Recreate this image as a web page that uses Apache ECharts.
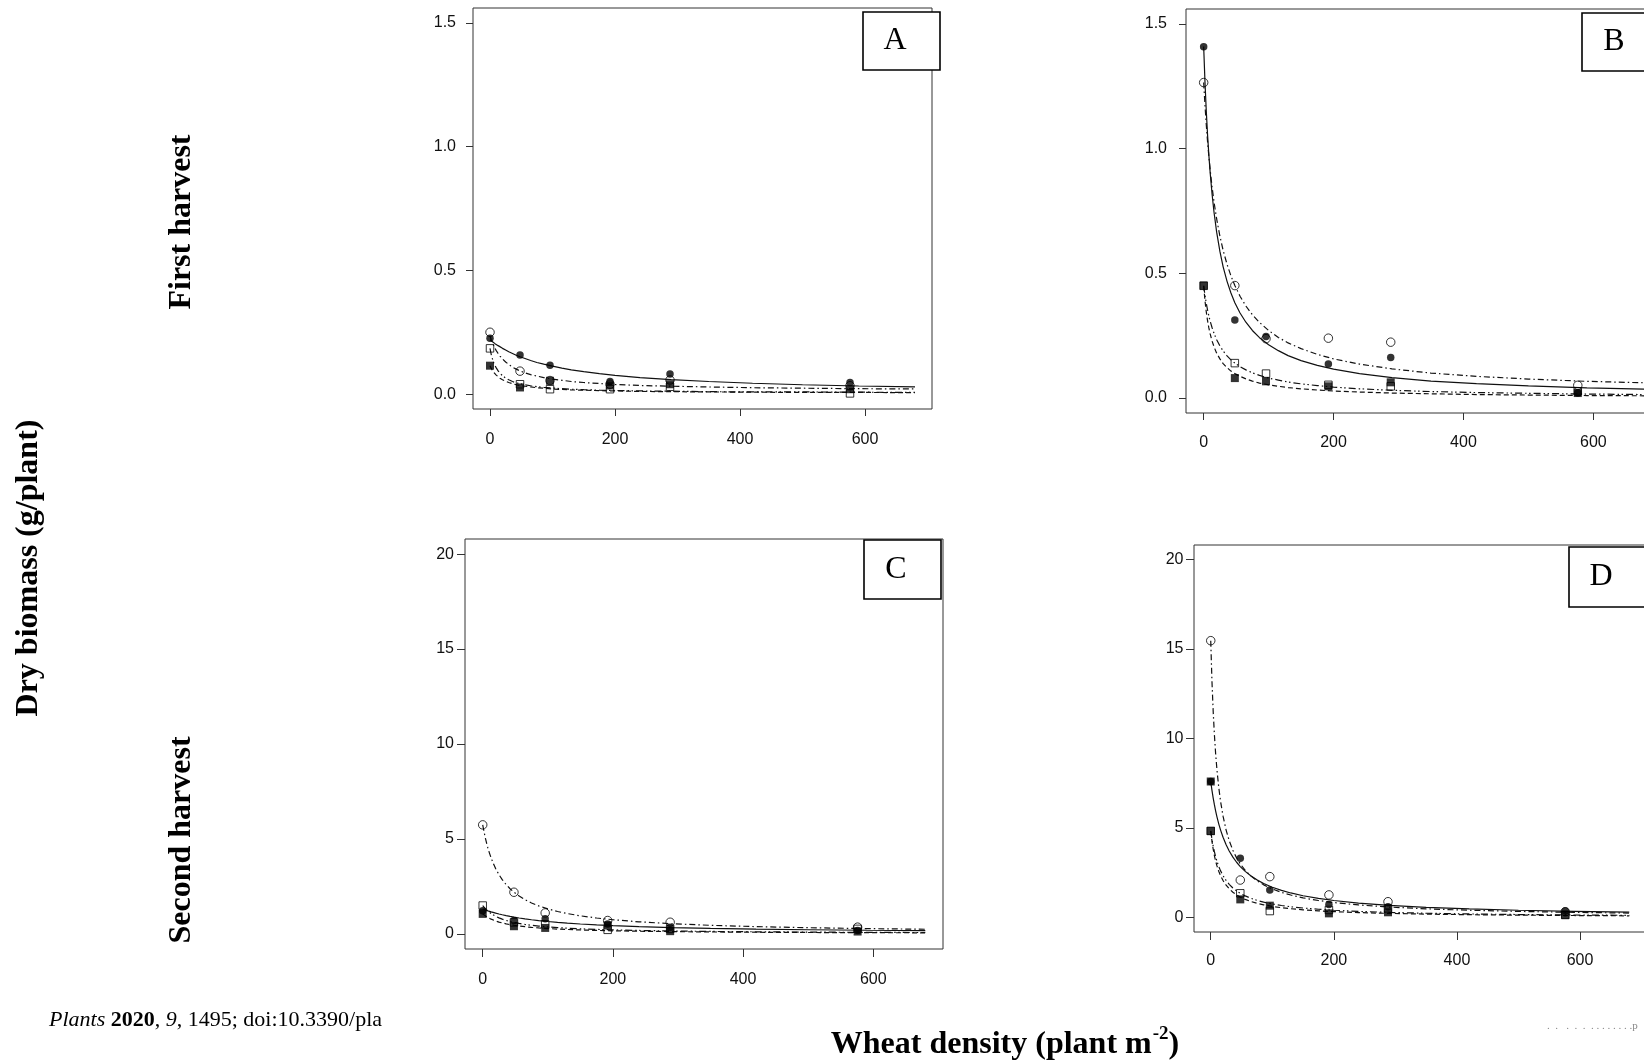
<!DOCTYPE html>
<html>
<head>
<meta charset="utf-8">
<title>Dry biomass vs wheat density</title>
<script src="https://cdn.jsdelivr.net/npm/echarts@6/dist/echarts.min.js"></script>
<style>
  html, body { margin: 0; padding: 0; background: #fff; }
  #chart { width: 1644px; height: 1061px; }
</style>
</head>
<body>
<div id="chart"></div>
<script>
// wheat densities (plant m-2) where the weed was sampled
const densities = [0, 48, 96, 192, 288, 576];
const curveX = [0, 2, 4, 6, 8, 10, 13, 16, 20, 25, 30, 36, 42, 48, 56, 65, 75, 86, 100, 115, 130, 150, 175, 200, 240, 290, 350, 420, 500, 590, 680];

const xTicks = [0, 200, 400, 600];
const yTicksFirst = [0, 0.5, 1, 1.5];
const yTicksSecond = [0, 5, 10, 15, 20];

// A - first harvest
const aFilledCircle = [0.226, 0.158, 0.117, 0.051, 0.081, 0.047];
const aOpenCircle = [0.25, 0.093, 0.055, 0.04, 0.057, 0.034];
const aOpenSquare = [0.185, 0.04, 0.02, 0.02, 0.03, 0.003];
const aFilledSquare = [0.115, 0.027, 0.054, 0.035, 0.04, 0.02];
const aFitSolid = [0.22, 0.216, 0.212, 0.208, 0.204, 0.201, 0.196, 0.191, 0.185, 0.178, 0.171, 0.164, 0.157, 0.151, 0.144, 0.136, 0.128, 0.121, 0.113, 0.105, 0.098, 0.091, 0.083, 0.076, 0.067, 0.059, 0.051, 0.044, 0.038, 0.033, 0.029];
const aFitDotDash = [0.235, 0.22, 0.207, 0.196, 0.185, 0.176, 0.164, 0.154, 0.142, 0.13, 0.12, 0.109, 0.101, 0.094, 0.086, 0.079, 0.073, 0.067, 0.061, 0.056, 0.051, 0.047, 0.043, 0.039, 0.035, 0.032, 0.029, 0.026, 0.024, 0.022, 0.021];
const aFitTwoDash = [0.185, 0.16, 0.142, 0.127, 0.115, 0.106, 0.094, 0.084, 0.075, 0.065, 0.058, 0.051, 0.046, 0.042, 0.038, 0.034, 0.03, 0.027, 0.025, 0.022, 0.02, 0.018, 0.016, 0.015, 0.013, 0.012, 0.01, 0.009, 0.009, 0.008, 0.007];
const aFitDashed = [0.115, 0.104, 0.096, 0.088, 0.082, 0.077, 0.07, 0.064, 0.058, 0.052, 0.047, 0.042, 0.038, 0.035, 0.032, 0.029, 0.026, 0.024, 0.021, 0.019, 0.017, 0.016, 0.014, 0.013, 0.011, 0.01, 0.009, 0.008, 0.007, 0.007, 0.006];

// B - first harvest
const bFilledCircle = [1.409, 0.313, 0.247, 0.136, 0.163, 0.02];
const bOpenCircle = [1.265, 0.451, 0.238, 0.24, 0.224, 0.051];
const bOpenSquare = [0.45, 0.14, 0.098, 0.053, 0.047, 0.027];
const bFilledSquare = [0.451, 0.08, 0.067, 0.047, 0.063, 0.02];
const bFitSolid = [1.41, 1.268, 1.152, 1.055, 0.974, 0.904, 0.816, 0.744, 0.665, 0.588, 0.526, 0.468, 0.421, 0.382, 0.341, 0.304, 0.271, 0.242, 0.214, 0.19, 0.17, 0.15, 0.131, 0.116, 0.098, 0.082, 0.068, 0.058, 0.049, 0.041, 0.036];
const bFitDotDash = [1.265, 1.175, 1.097, 1.028, 0.968, 0.915, 0.845, 0.785, 0.718, 0.649, 0.592, 0.536, 0.49, 0.451, 0.408, 0.369, 0.334, 0.303, 0.271, 0.243, 0.221, 0.198, 0.175, 0.157, 0.136, 0.117, 0.1, 0.087, 0.076, 0.067, 0.061];
const bFitTwoDash = [0.45, 0.412, 0.38, 0.353, 0.329, 0.308, 0.282, 0.259, 0.234, 0.209, 0.189, 0.169, 0.153, 0.14, 0.126, 0.113, 0.101, 0.091, 0.08, 0.072, 0.064, 0.057, 0.05, 0.044, 0.037, 0.031, 0.026, 0.022, 0.019, 0.016, 0.014];
const bFitDashed = [0.45, 0.391, 0.346, 0.31, 0.281, 0.257, 0.228, 0.205, 0.18, 0.157, 0.138, 0.122, 0.108, 0.098, 0.087, 0.077, 0.068, 0.06, 0.053, 0.047, 0.042, 0.037, 0.032, 0.028, 0.024, 0.02, 0.017, 0.014, 0.012, 0.01, 0.009];

// C - second harvest
const cFilledCircle = [1.22, 0.7, 0.79, 0.52, 0.35, 0.17];
const cOpenCircle = [5.74, 2.19, 1.1, 0.7, 0.61, 0.35];
const cOpenSquare = [1.49, 0.6, 0.5, 0.21, 0.26, 0.26];
const cFilledSquare = [1.05, 0.4, 0.31, 0.44, 0.14, 0.12];
const cFitSolid = [1.31, 1.284, 1.259, 1.234, 1.211, 1.189, 1.157, 1.126, 1.088, 1.044, 1.003, 0.958, 0.917, 0.879, 0.834, 0.788, 0.742, 0.698, 0.649, 0.603, 0.563, 0.518, 0.47, 0.431, 0.38, 0.331, 0.287, 0.248, 0.215, 0.187, 0.165];
const cFitDotDash = [5.74, 5.378, 5.058, 4.775, 4.521, 4.293, 3.991, 3.729, 3.429, 3.115, 2.854, 2.594, 2.376, 2.193, 1.988, 1.799, 1.627, 1.473, 1.313, 1.177, 1.067, 0.948, 0.832, 0.742, 0.632, 0.533, 0.448, 0.379, 0.322, 0.275, 0.24];
const cFitTwoDash = [1.49, 1.403, 1.326, 1.257, 1.195, 1.138, 1.063, 0.997, 0.921, 0.841, 0.773, 0.705, 0.648, 0.6, 0.546, 0.495, 0.449, 0.407, 0.364, 0.327, 0.297, 0.264, 0.233, 0.208, 0.177, 0.15, 0.126, 0.107, 0.091, 0.077, 0.068];
const cFitDashed = [1.05, 0.995, 0.945, 0.9, 0.859, 0.822, 0.771, 0.727, 0.675, 0.619, 0.573, 0.525, 0.484, 0.45, 0.411, 0.374, 0.34, 0.31, 0.278, 0.25, 0.228, 0.203, 0.179, 0.16, 0.137, 0.116, 0.098, 0.083, 0.07, 0.06, 0.053];

// D - second harvest
const dFilledCircle = [7.6, 3.31, 1.54, 0.74, 0.61, 0.37];
const dOpenCircle = [15.46, 2.1, 2.29, 1.27, 0.89, 0.33];
const dOpenSquare = [4.84, 1.36, 0.37, 0.43, 0.52, 0.15];
const dFilledSquare = [7.6, 1.02, 0.67, 0.24, 0.3, 0.15];
const dFilledSquareExtra = [[0, 4.84]]; // second filled square at zero density
const dFitSolid = [7.6, 7.107, 6.674, 6.29, 5.949, 5.642, 5.237, 4.887, 4.486, 4.07, 3.724, 3.379, 3.093, 2.851, 2.582, 2.335, 2.11, 1.908, 1.7, 1.523, 1.379, 1.225, 1.075, 0.957, 0.815, 0.687, 0.578, 0.488, 0.414, 0.354, 0.309];
const dFitDotDash = [15.46, 13.18, 11.49, 10.18, 9.137, 8.29, 7.277, 6.485, 5.663, 4.889, 4.3, 3.758, 3.337, 3.001, 2.645, 2.334, 2.065, 1.832, 1.602, 1.412, 1.263, 1.106, 0.958, 0.845, 0.71, 0.593, 0.494, 0.414, 0.349, 0.297, 0.258];
const dFitTwoDash = [4.84, 4.374, 3.989, 3.667, 3.393, 3.157, 2.859, 2.612, 2.343, 2.075, 1.862, 1.658, 1.494, 1.36, 1.215, 1.084, 0.968, 0.867, 0.765, 0.679, 0.61, 0.538, 0.469, 0.415, 0.351, 0.294, 0.246, 0.207, 0.175, 0.149, 0.13];
const dFitDashed = [4.84, 4.27, 3.819, 3.455, 3.154, 2.902, 2.59, 2.34, 2.072, 1.813, 1.611, 1.422, 1.272, 1.151, 1.021, 0.906, 0.805, 0.718, 0.63, 0.557, 0.5, 0.439, 0.381, 0.337, 0.284, 0.238, 0.199, 0.167, 0.141, 0.12, 0.104];

const sansFont = '"Liberation Sans", Arial, sans-serif';
const serifFont = '"Liberation Serif", "Times New Roman", serif';
const ink = '#111';

// marker + fitted line look for each of the four treatments
const markers = {
  openCircle: { symbol: 'circle', size: 8.5, fill: 'rgba(0,0,0,0)', dash: [6, 3, 1.5, 3] },
  openSquare: { symbol: 'rect', size: 7.5, fill: 'rgba(0,0,0,0)', dash: [7, 3, 1.5, 2.5, 1.5, 3] },
  filledCircle: { symbol: 'circle', size: 7.5, fill: '#000', dash: 'solid' },
  filledSquare: { symbol: 'rect', size: 8, fill: '#000', dash: [5, 3] }
};

const panels = [
  { tag: 'A', box: { left: 473, top: 8, width: 459, height: 401 }, yMin: -0.06, yMax: 1.56, yTicks: yTicksFirst, digits: 1,
    yMargin: 17, xMargin: 23, tick: 7, label: { x: 863, y: 12, w: 77, h: 58 },
    pts: { openCircle: aOpenCircle, openSquare: aOpenSquare, filledCircle: aFilledCircle, filledSquare: aFilledSquare },
    fit: { filledCircle: aFitSolid, openCircle: aFitDotDash, openSquare: aFitTwoDash, filledSquare: aFitDashed } },
  { tag: 'B', box: { left: 1186, top: 9, width: 477, height: 404 }, yMin: -0.06, yMax: 1.56, yTicks: yTicksFirst, digits: 1,
    yMargin: 19, xMargin: 22, tick: 7, label: { x: 1582, y: 13, w: 77, h: 58 },
    pts: { openCircle: bOpenCircle, openSquare: bOpenSquare, filledCircle: bFilledCircle, filledSquare: bFilledSquare },
    fit: { filledCircle: bFitSolid, openCircle: bFitDotDash, openSquare: bFitTwoDash, filledSquare: bFitDashed } },
  { tag: 'C', box: { left: 465, top: 539, width: 478, height: 410 }, yMin: -0.8, yMax: 20.8, yTicks: yTicksSecond, digits: 0,
    yMargin: 11, xMargin: 23, tick: 8, label: { x: 864, y: 540, w: 77, h: 59 },
    pts: { openCircle: cOpenCircle, openSquare: cOpenSquare, filledCircle: cFilledCircle, filledSquare: cFilledSquare },
    fit: { filledCircle: cFitSolid, openCircle: cFitDotDash, openSquare: cFitTwoDash, filledSquare: cFitDashed } },
  { tag: 'D', box: { left: 1194, top: 545, width: 452, height: 387 }, yMin: -0.8, yMax: 20.8, yTicks: yTicksSecond, digits: 0,
    yMargin: 10.5, xMargin: 21, tick: 8, label: { x: 1569, y: 547, w: 77, h: 60 },
    pts: { openCircle: dOpenCircle, openSquare: dOpenSquare, filledCircle: dFilledCircle, filledSquare: dFilledSquare },
    extra: { filledSquare: dFilledSquareExtra },
    fit: { filledCircle: dFitSolid, openCircle: dFitDotDash, openSquare: dFitTwoDash, filledSquare: dFitDashed } }
];

const grid = [], xAxis = [], yAxis = [], series = [], graphic = [];

panels.forEach((p, i) => {
  grid.push({ ...p.box, show: true, borderColor: '#333', borderWidth: 1, backgroundColor: 'transparent',
    containLabel: false, outerBoundsMode: 'none' });

  xAxis.push({
    type: 'value', gridIndex: i, min: -27.2, max: 707.2, position: 'bottom',
    axisLine: { show: false, onZero: false },
    splitLine: { show: false },
    axisTick: { show: true, inside: false, length: p.tick, customValues: xTicks, lineStyle: { color: '#333', width: 1 } },
    axisLabel: { customValues: xTicks, margin: p.xMargin, fontSize: 16, fontFamily: sansFont, color: ink }
  });
  yAxis.push({
    type: 'value', gridIndex: i, min: p.yMin, max: p.yMax, position: 'left',
    axisLine: { show: false, onZero: false },
    splitLine: { show: false },
    axisTick: { show: true, inside: false, length: p.tick, customValues: p.yTicks, lineStyle: { color: '#333', width: 1 } },
    axisLabel: { customValues: p.yTicks, margin: p.yMargin, fontSize: 16, fontFamily: sansFont, color: ink,
      formatter: v => Number(v).toFixed(p.digits) }
  });

  // fitted curves
  Object.keys(p.fit).forEach(k => {
    series.push({
      type: 'line', xAxisIndex: i, yAxisIndex: i, silent: true, z: 2,
      showSymbol: false, smooth: false,
      lineStyle: { color: ink, width: 1.2, type: markers[k].dash },
      data: curveX.map((x, j) => [x, p.fit[k][j]])
    });
  });

  // observed means
  Object.keys(p.pts).forEach(k => {
    const m = markers[k];
    let data = densities.map((x, j) => [x, p.pts[k][j]]);
    if (p.extra && p.extra[k]) data = data.concat(p.extra[k]);
    series.push({
      type: 'scatter', xAxisIndex: i, yAxisIndex: i, silent: true, z: 3,
      symbol: m.symbol, symbolSize: m.size,
      itemStyle: { color: m.fill, borderColor: '#000', borderWidth: m.fill === '#000' ? 0 : 1 },
      data: data
    });
  });

  // panel letter box
  graphic.push({
    type: 'rect', z: 10,
    shape: { x: p.label.x, y: p.label.y, width: p.label.w, height: p.label.h },
    style: { fill: '#fff', stroke: '#000', lineWidth: 1.6 }
  });
  graphic.push({
    type: 'text', z: 11, x: p.label.x + 32, y: p.label.y + p.label.h / 2,
    style: { text: p.tag, fontSize: 32, fontFamily: serifFont, fill: '#000',
      align: 'center', verticalAlign: 'middle', textAlign: 'center', textVerticalAlign: 'middle' }
  });
});

const boldTitle = { fontSize: 32, fontWeight: 'bold', fontFamily: serifFont, fill: '#000',
  align: 'center', verticalAlign: 'middle', textAlign: 'center', textVerticalAlign: 'middle' };

graphic.push(
  { type: 'text', x: 29, y: 568, rotation: Math.PI / 2, style: { ...boldTitle, text: 'Dry biomass (g/plant)' } },
  { type: 'text', x: 182, y: 222, rotation: Math.PI / 2, style: { ...boldTitle, text: 'First harvest' } },
  { type: 'text', x: 182, y: 840, rotation: Math.PI / 2, style: { ...boldTitle, text: 'Second harvest' } },
  { type: 'text', x: 1005, y: 1043,
    style: { ...boldTitle, text: '{t|Wheat density (plant m}{s|-2}{t|)}',
      rich: {
        t: { fontSize: 32, fontWeight: 'bold', fontFamily: serifFont, lineHeight: 36, verticalAlign: 'bottom' },
        s: { fontSize: 19, fontWeight: 'bold', fontFamily: serifFont, lineHeight: 36, verticalAlign: 'top', padding: [0, 0, 0, 1] }
      } } },
  { type: 'text', x: 49, y: 1020,
    style: { text: '{i|Plants} {b|2020}, {i|9}, 1495; doi:10.3390/pla', fontSize: 22, fontFamily: serifFont, fill: '#000',
      align: 'left', verticalAlign: 'middle', textAlign: 'left', textVerticalAlign: 'middle',
      rich: {
        i: { fontSize: 22, fontStyle: 'italic', fontFamily: serifFont },
        b: { fontSize: 22, fontWeight: 'bold', fontFamily: serifFont }
      } } },
  { type: 'text', x: 1547, y: 1026,
    style: { text: '.  .   .  .  .  . . . . . . . .p', fontSize: 11, fontFamily: serifFont, fill: '#8a8a8a',
      align: 'left', verticalAlign: 'middle', textAlign: 'left', textVerticalAlign: 'middle' } }
);

const chart = echarts.init(document.getElementById('chart'), null, { renderer: 'canvas' });
chart.setOption({
  animation: false,
  backgroundColor: '#fff',
  grid, xAxis, yAxis, series, graphic
});
</script>
</body>
</html>
